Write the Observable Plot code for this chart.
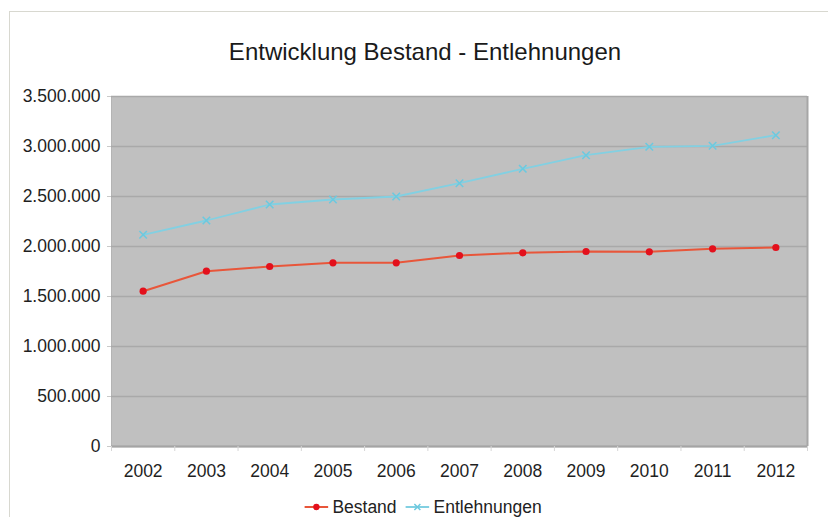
<!DOCTYPE html>
<html>
<head>
<meta charset="utf-8">
<script src="https://cdn.jsdelivr.net/npm/d3@7"></script>
<script src="https://cdn.jsdelivr.net/npm/@observablehq/plot@0.6"></script>
<style>
  html, body { margin: 0; padding: 0; background: #fff; }
  #chart { position: relative; width: 828px; height: 517px; overflow: hidden;
           font-family: "Liberation Sans", Arial, sans-serif; color: #222; }
  #border { position: absolute; left: 9px; top: 11px; right: -2px; bottom: -2px;
            border-left: 1.5px solid #d8d8d0; border-top: 1.5px solid #d8d8d0; }
  #title { position: absolute; top: 37px; left: 425px; transform: translateX(-50%);
           white-space: nowrap; font-size: 24px; line-height: 30px; color: #1a1a1a; }
  #plot { position: absolute; top: 60px; left: 0; }
  #legend { position: absolute; top: 497px; left: 423px; transform: translateX(-50%);
            display: flex; align-items: center; white-space: nowrap;
            font-size: 17.5px; line-height: 20px; color: #222; }
  #legend .item { display: flex; align-items: center; }
  #legend svg { margin-right: 4px; }
  #legend .gap { width: 9px; }
</style>
</head>
<body>
<div id="chart">
  <div id="border"></div>
  <div id="title">Entwicklung Bestand - Entlehnungen</div>
  <div id="plot"></div>
  <div id="legend"></div>
</div>
<script>
// Years shown on the x axis
const years = [2002, 2003, 2004, 2005, 2006, 2007, 2008, 2009, 2010, 2011, 2012];

// Media stock (Bestand) per year
const bestand = [1553000, 1753000, 1800000, 1837000, 1837000, 1910000, 1937000, 1950000, 1947000, 1977000, 1990000];

// Loans (Entlehnungen) per year
const entlehnungen = [2117000, 2260000, 2420000, 2470000, 2500000, 2633000, 2777000, 2913000, 2997000, 3007000, 3113000];

// Value axis ticks
const yTicks = [0, 500000, 1000000, 1500000, 2000000, 2500000, 3000000, 3500000];

const seriesNames = ["Bestand", "Entlehnungen"];
const lineColors = ["#e8563a", "#82d0e2"];
const markColors = ["#e3101c", "#6cc9df"];

// German number format: 3.500.000
const de = d3.formatLocale({decimal: ",", thousands: ".", grouping: [3], currency: ["", " €"]});
const fmt = de.format(",d");

const rowsB = years.map((year, i) => ({year, value: bestand[i]}));
const rowsE = years.map((year, i) => ({year, value: entlehnungen[i]}));

// Category boundaries for the small tick marks between the years
const bounds = [years[0] - 0.5, ...years.map(y => y + 0.5)];

const chart = Plot.plot({
  width: 828,
  height: 430,
  marginTop: 36,
  marginBottom: 44,
  marginLeft: 111,
  marginRight: 21,
  style: {fontFamily: "'Liberation Sans', Arial, sans-serif", fontSize: "17.5px", background: "transparent"},
  x: {type: "linear", domain: [years[0] - 0.5, years[years.length - 1] + 0.5], label: null},
  y: {domain: [0, 3500000], label: null},
  marks: [
    Plot.frame({fill: "#c0c0c0", stroke: "#b4b4b4", strokeWidth: 1}),
    Plot.ruleY(yTicks, {stroke: "#a9a9a9", strokeWidth: 1.5}),
    Plot.ruleY([0], {stroke: "#a4a4a4", strokeWidth: 2}),
    Plot.ruleX([bounds[bounds.length - 1]], {stroke: "#a6a6a6", strokeWidth: 2}),
    Plot.line(rowsE, {x: "year", y: "value", stroke: lineColors[1], strokeWidth: 1.8}),
    Plot.dot(rowsE, {x: "year", y: "value", symbol: "times", r: 3.5, stroke: markColors[1], strokeWidth: 1.6}),
    Plot.line(rowsB, {x: "year", y: "value", stroke: lineColors[0], strokeWidth: 2}),
    Plot.dot(rowsB, {x: "year", y: "value", r: 3.6, fill: markColors[0], stroke: "none"}),
    // y axis: light tick marks and dark labels
    Plot.axisY(yTicks, {tickSize: 4, tickFormat: () => "", stroke: "#c9c9c9", label: null}),
    Plot.axisY(yTicks, {tickSize: 0, tickPadding: 11, tickFormat: fmt, fill: "#1f1f1f", fontSize: 17.5, label: null}),
    // x axis: year labels centred, ticks on the boundaries
    Plot.axisX(years, {tickSize: 0, tickPadding: 18.5, tickFormat: d => String(d), fill: "#1f1f1f", fontSize: 17.5, label: null}),
    Plot.axisX(bounds, {tickSize: 5, tickFormat: () => "", stroke: "#d6d6d6", label: null})
  ]
});
document.getElementById("plot").appendChild(chart);

// Legend below the chart
const legend = d3.select("#legend");
seriesNames.forEach((name, i) => {
  if (i > 0) legend.append("div").attr("class", "gap");
  const item = legend.append("div").attr("class", "item");
  const sw = item.append("svg").attr("width", 24).attr("height", 12);
  sw.append("line").attr("x1", 0).attr("x2", 24).attr("y1", 6).attr("y2", 6)
    .attr("stroke", lineColors[i]).attr("stroke-width", 2);
  if (i === 0) {
    sw.append("circle").attr("cx", 12).attr("cy", 6).attr("r", 3.2).attr("fill", markColors[0]);
  } else {
    sw.append("path").attr("d", "M9,3L15,9M15,3L9,9").attr("stroke", markColors[1]).attr("stroke-width", 1.5);
  }
  item.append("span").text(name);
});
</script>
</body>
</html>
